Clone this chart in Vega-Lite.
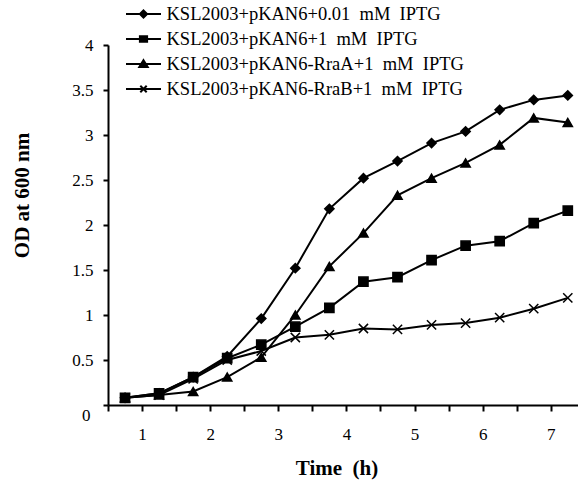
{
  "$schema": "https://vega.github.io/schema/vega-lite/v6.json",
  "width": 470,
  "height": 360,
  "autosize": {"type": "none"},
  "padding": {"left": 108, "top": 45, "right": 0, "bottom": 75},
  "background": "white",
  "config": {
    "view": {"stroke": null},
    "font": "Liberation Serif, Times New Roman, serif",
    "axis": {"labelFont": "Liberation Serif, Times New Roman, serif", "titleFont": "Liberation Serif, Times New Roman, serif", "labelColor": "black", "titleColor": "black", "domainColor": "black", "tickColor": "black", "grid": false}
  },
  "data": {
    "values": [
      {"t": 0.75, "s": "KSL2003+pKAN6+0.01\u00a0 mM\u00a0 IPTG", "od": 0.08},
      {"t": 1.25, "s": "KSL2003+pKAN6+0.01\u00a0 mM\u00a0 IPTG", "od": 0.13},
      {"t": 1.75, "s": "KSL2003+pKAN6+0.01\u00a0 mM\u00a0 IPTG", "od": 0.31},
      {"t": 2.25, "s": "KSL2003+pKAN6+0.01\u00a0 mM\u00a0 IPTG", "od": 0.54},
      {"t": 2.75, "s": "KSL2003+pKAN6+0.01\u00a0 mM\u00a0 IPTG", "od": 0.96},
      {"t": 3.25, "s": "KSL2003+pKAN6+0.01\u00a0 mM\u00a0 IPTG", "od": 1.52},
      {"t": 3.75, "s": "KSL2003+pKAN6+0.01\u00a0 mM\u00a0 IPTG", "od": 2.18},
      {"t": 4.25, "s": "KSL2003+pKAN6+0.01\u00a0 mM\u00a0 IPTG", "od": 2.52},
      {"t": 4.75, "s": "KSL2003+pKAN6+0.01\u00a0 mM\u00a0 IPTG", "od": 2.71},
      {"t": 5.25, "s": "KSL2003+pKAN6+0.01\u00a0 mM\u00a0 IPTG", "od": 2.91},
      {"t": 5.75, "s": "KSL2003+pKAN6+0.01\u00a0 mM\u00a0 IPTG", "od": 3.04},
      {"t": 6.25, "s": "KSL2003+pKAN6+0.01\u00a0 mM\u00a0 IPTG", "od": 3.28},
      {"t": 6.75, "s": "KSL2003+pKAN6+0.01\u00a0 mM\u00a0 IPTG", "od": 3.39},
      {"t": 7.25, "s": "KSL2003+pKAN6+0.01\u00a0 mM\u00a0 IPTG", "od": 3.44},
      {"t": 0.75, "s": "KSL2003+pKAN6+1\u00a0 mM\u00a0 IPTG", "od": 0.08},
      {"t": 1.25, "s": "KSL2003+pKAN6+1\u00a0 mM\u00a0 IPTG", "od": 0.13},
      {"t": 1.75, "s": "KSL2003+pKAN6+1\u00a0 mM\u00a0 IPTG", "od": 0.31},
      {"t": 2.25, "s": "KSL2003+pKAN6+1\u00a0 mM\u00a0 IPTG", "od": 0.52},
      {"t": 2.75, "s": "KSL2003+pKAN6+1\u00a0 mM\u00a0 IPTG", "od": 0.67},
      {"t": 3.25, "s": "KSL2003+pKAN6+1\u00a0 mM\u00a0 IPTG", "od": 0.87},
      {"t": 3.75, "s": "KSL2003+pKAN6+1\u00a0 mM\u00a0 IPTG", "od": 1.08},
      {"t": 4.25, "s": "KSL2003+pKAN6+1\u00a0 mM\u00a0 IPTG", "od": 1.37},
      {"t": 4.75, "s": "KSL2003+pKAN6+1\u00a0 mM\u00a0 IPTG", "od": 1.42},
      {"t": 5.25, "s": "KSL2003+pKAN6+1\u00a0 mM\u00a0 IPTG", "od": 1.61},
      {"t": 5.75, "s": "KSL2003+pKAN6+1\u00a0 mM\u00a0 IPTG", "od": 1.77},
      {"t": 6.25, "s": "KSL2003+pKAN6+1\u00a0 mM\u00a0 IPTG", "od": 1.82},
      {"t": 6.75, "s": "KSL2003+pKAN6+1\u00a0 mM\u00a0 IPTG", "od": 2.02},
      {"t": 7.25, "s": "KSL2003+pKAN6+1\u00a0 mM\u00a0 IPTG", "od": 2.16},
      {"t": 0.75, "s": "KSL2003+pKAN6-RraA+1\u00a0 mM\u00a0 IPTG", "od": 0.08},
      {"t": 1.25, "s": "KSL2003+pKAN6-RraA+1\u00a0 mM\u00a0 IPTG", "od": 0.11},
      {"t": 1.75, "s": "KSL2003+pKAN6-RraA+1\u00a0 mM\u00a0 IPTG", "od": 0.15},
      {"t": 2.25, "s": "KSL2003+pKAN6-RraA+1\u00a0 mM\u00a0 IPTG", "od": 0.31},
      {"t": 2.75, "s": "KSL2003+pKAN6-RraA+1\u00a0 mM\u00a0 IPTG", "od": 0.53},
      {"t": 3.25, "s": "KSL2003+pKAN6-RraA+1\u00a0 mM\u00a0 IPTG", "od": 1.0},
      {"t": 3.75, "s": "KSL2003+pKAN6-RraA+1\u00a0 mM\u00a0 IPTG", "od": 1.54},
      {"t": 4.25, "s": "KSL2003+pKAN6-RraA+1\u00a0 mM\u00a0 IPTG", "od": 1.91},
      {"t": 4.75, "s": "KSL2003+pKAN6-RraA+1\u00a0 mM\u00a0 IPTG", "od": 2.33},
      {"t": 5.25, "s": "KSL2003+pKAN6-RraA+1\u00a0 mM\u00a0 IPTG", "od": 2.52},
      {"t": 5.75, "s": "KSL2003+pKAN6-RraA+1\u00a0 mM\u00a0 IPTG", "od": 2.69},
      {"t": 6.25, "s": "KSL2003+pKAN6-RraA+1\u00a0 mM\u00a0 IPTG", "od": 2.89},
      {"t": 6.75, "s": "KSL2003+pKAN6-RraA+1\u00a0 mM\u00a0 IPTG", "od": 3.19},
      {"t": 7.25, "s": "KSL2003+pKAN6-RraA+1\u00a0 mM\u00a0 IPTG", "od": 3.14},
      {"t": 0.75, "s": "KSL2003+pKAN6-RraB+1\u00a0 mM\u00a0 IPTG", "od": 0.08},
      {"t": 1.25, "s": "KSL2003+pKAN6-RraB+1\u00a0 mM\u00a0 IPTG", "od": 0.11},
      {"t": 1.75, "s": "KSL2003+pKAN6-RraB+1\u00a0 mM\u00a0 IPTG", "od": 0.29},
      {"t": 2.25, "s": "KSL2003+pKAN6-RraB+1\u00a0 mM\u00a0 IPTG", "od": 0.5},
      {"t": 2.75, "s": "KSL2003+pKAN6-RraB+1\u00a0 mM\u00a0 IPTG", "od": 0.6},
      {"t": 3.25, "s": "KSL2003+pKAN6-RraB+1\u00a0 mM\u00a0 IPTG", "od": 0.75},
      {"t": 3.75, "s": "KSL2003+pKAN6-RraB+1\u00a0 mM\u00a0 IPTG", "od": 0.78},
      {"t": 4.25, "s": "KSL2003+pKAN6-RraB+1\u00a0 mM\u00a0 IPTG", "od": 0.85},
      {"t": 4.75, "s": "KSL2003+pKAN6-RraB+1\u00a0 mM\u00a0 IPTG", "od": 0.84},
      {"t": 5.25, "s": "KSL2003+pKAN6-RraB+1\u00a0 mM\u00a0 IPTG", "od": 0.89},
      {"t": 5.75, "s": "KSL2003+pKAN6-RraB+1\u00a0 mM\u00a0 IPTG", "od": 0.91},
      {"t": 6.25, "s": "KSL2003+pKAN6-RraB+1\u00a0 mM\u00a0 IPTG", "od": 0.97},
      {"t": 6.75, "s": "KSL2003+pKAN6-RraB+1\u00a0 mM\u00a0 IPTG", "od": 1.07},
      {"t": 7.25, "s": "KSL2003+pKAN6-RraB+1\u00a0 mM\u00a0 IPTG", "od": 1.19}
    ]
  },
  "encoding": {
    "x": {
      "field": "t", "type": "quantitative",
      "scale": {"domain": [0.5, 7.4], "nice": false, "zero": false},
      "axis": {
        "values": [0.5, 1, 1.5, 2, 2.5, 3, 3.5, 4, 4.5, 5, 5.5, 6, 6.5, 7],
        "labelExpr": "datum.value % 1 === 0 ? '' + datum.value : ''",
        "title": "Time\u00a0 (h)",
        "domainWidth": 2, "tickWidth": 2, "tickSize": 6,
        "labelFontSize": 17, "labelPadding": 15, "labelFlush": false,
        "titleFontSize": 21, "titleFontWeight": "bold",
        "titleX": 228.5, "titleY": 63, "titleBaseline": "middle", "titleAlign": "center"
      }
    },
    "y": {
      "field": "od", "type": "quantitative",
      "scale": {"domain": [0, 4], "nice": false},
      "axis": {
        "values": [0, 0.5, 1, 1.5, 2, 2.5, 3, 3.5, 4],
        "labelExpr": "'' + datum.value",
        "title": "OD at 600 nm",
        "domainWidth": 2, "tickWidth": 2, "tickSize": 5,
        "labelFontSize": 17, "labelPadding": 10, "labelFlush": false,
        "titleFontSize": 21, "titleFontWeight": "bold",
        "titleX": -86, "titleY": 150, "titleAngle": 270, "titleBaseline": "middle", "titleAlign": "center",
        "encoding": {"labels": {"dy": {"value": {"expr": "datum.value === 0 ? 10 : 0"}}, "dx": {"value": {"expr": "datum.value === 0 ? -3 : 0"}}}}
      }
    }
  },
  "layer": [
    {
      "mark": {"type": "line", "color": "black", "strokeWidth": 2},
      "encoding": {"detail": {"field": "s"}}
    },
    {
      "mark": {"type": "point", "filled": true, "fill": "black", "stroke": "black", "strokeWidth": 1.5, "size": 85, "opacity": 1},
      "encoding": {
        "shape": {
          "field": "s", "type": "nominal",
          "scale": {
            "domain": ["KSL2003+pKAN6+0.01\u00a0 mM\u00a0 IPTG", "KSL2003+pKAN6+1\u00a0 mM\u00a0 IPTG", "KSL2003+pKAN6-RraA+1\u00a0 mM\u00a0 IPTG", "KSL2003+pKAN6-RraB+1\u00a0 mM\u00a0 IPTG"],
            "range": ["diamond", "square", "triangle-up", "M-1,-1L1,1M-1,1L1,-1"]
          },
          "legend": null
        }
      }
    },
    {
      "mark": {"type": "point", "filled": true, "fill": "black", "stroke": "black", "strokeWidth": 2, "size": 400, "opacity": 0},
      "encoding": {
        "shape": {
          "field": "s", "type": "nominal",
          "scale": {
            "domain": ["KSL2003+pKAN6+0.01\u00a0 mM\u00a0 IPTG", "KSL2003+pKAN6+1\u00a0 mM\u00a0 IPTG", "KSL2003+pKAN6-RraA+1\u00a0 mM\u00a0 IPTG", "KSL2003+pKAN6-RraB+1\u00a0 mM\u00a0 IPTG"],
            "range": [
              "M-1.75,0L1.75,0M0,-0.36L0.36,0L0,0.36L-0.36,0Z",
              "M-1.75,0L1.75,0M-0.36,-0.28L0.36,-0.28L0.36,0.28L-0.36,0.28Z",
              "M-1.75,0L1.75,0M0,-0.38L0.42,0.3L-0.42,0.3Z",
              "M-1.75,0L1.75,0M-0.32,-0.32L0.32,0.32M-0.32,0.32L0.32,-0.32"
            ]
          },
          "legend": {
            "orient": "none", "legendX": 24.5, "legendY": -42,
            "title": null,
            "symbolSize": 400, "symbolStrokeWidth": 2, "symbolOpacity": 1, "symbolFillColor": "black", "symbolStrokeColor": "black",
            "labelFont": "Liberation Serif, Times New Roman, serif", "labelFontSize": 18.5, "labelColor": "black", "labelOffset": 12,
            "rowPadding": 4, "labelLimit": 400,
            "encoding": {"symbols": {"fill": {"value": "black"}, "stroke": {"value": "black"}, "strokeWidth": {"value": 2}, "opacity": {"value": 1}}}
          }
        }
      }
    }
  ],
  "resolve": {"scale": {"shape": "independent"}, "legend": {"shape": "independent"}}
}
